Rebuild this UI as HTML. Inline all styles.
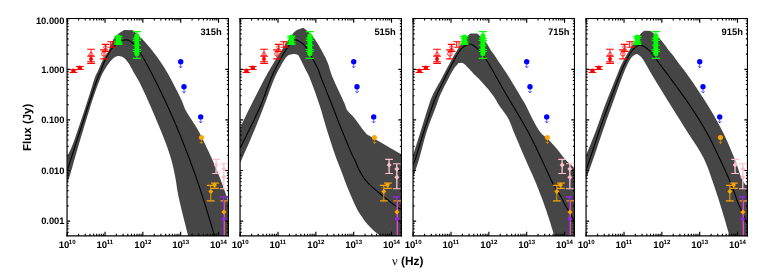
<!DOCTYPE html>
<html><head><meta charset="utf-8"><title>SED</title>
<style>html,body{margin:0;padding:0;background:#fff;}body{width:771px;height:275px;overflow:hidden;font-family:"Liberation Sans",sans-serif;}svg{display:block;}text{font-family:"Liberation Sans",sans-serif;font-weight:bold;fill:#000;text-rendering:geometricPrecision;}</style>
</head><body>
<svg width="771" height="275" viewBox="0 0 771 275">
<g style="will-change:transform">
<g>
<clipPath id="c0"><rect x="67.05" y="18.5" width="161.4" height="217.45"/></clipPath>
<g clip-path="url(#c0)">
<path d="M67.2 156.2 L68 154.64 L68.79 153.17 L69.59 151.66 L70.42 149.98 L71.3 148 L73.1 143.46 L75.1 137.93 L77.19 131.87 L79.26 125.74 L81.2 120 L82.86 115.05 L84.47 110.17 L86.03 105.36 L87.56 100.63 L89.05 96 L90.42 91.64 L91.8 87.13 L93.13 82.8 L94.36 78.98 L95.45 76 L95.87 75.02 L96.25 74.27 L96.62 73.6 L97 72.89 L97.45 72 L98.37 69.97 L99.42 67.53 L100.55 64.91 L101.73 62.33 L102.9 60 L103.89 58.32 L104.9 56.8 L105.93 55.32 L106.97 53.76 L108 52 L109.3 49.19 L110.53 45.97 L111.81 42.65 L113.23 39.53 L114.9 36.9 L116.52 35.19 L118.32 33.77 L120.21 32.52 L122.13 31.3 L124 30 L133.1 30.2 L135.49 32.53 L137.9 34.84 L140.3 37.16 L142.68 39.53 L145 42 L147.37 44.68 L149.72 47.45 L152.02 50.28 L154.25 53.14 L156.4 56 L158.38 58.75 L160.28 61.5 L162.12 64.28 L163.92 67.11 L165.7 70 L167.54 73.12 L169.35 76.34 L171.12 79.6 L172.84 82.84 L174.5 86 L176.02 88.9 L177.52 91.8 L178.96 94.66 L180.31 97.41 L181.5 100 L182.31 101.93 L183.04 103.84 L183.7 105.65 L184.32 107.29 L184.9 108.7 L185.22 109.39 L185.53 109.98 L185.82 110.52 L186.11 111.05 L186.4 111.6 L187.39 113.18 L188.37 114.75 L189.35 116.33 L190.35 117.93 L191.4 119.6 L192.65 121.54 L193.96 123.51 L195.29 125.54 L196.64 127.69 L198 130 L199.76 133.26 L201.55 136.81 L203.36 140.54 L205.15 144.31 L206.9 148 L208.6 151.61 L210.29 155.23 L211.95 158.86 L213.56 162.45 L215.1 166 L216.47 169.25 L217.79 172.47 L219.07 175.66 L220.3 178.83 L221.5 182 L222.64 185.11 L223.76 188.25 L224.85 191.37 L225.86 194.37 L226.8 197.2 L227.48 199.32 L228.1 201.35 L228.68 203.3 L229.25 205.18 L229.8 207 L230.26 208.48 L230.7 209.89 L231.13 211.26 L231.56 212.62 L232 214 L232 240 L189 240 L188.82 239.19 L188.65 238.45 L188.48 237.68 L188.27 236.76 L188 235.6 L186.58 229.82 L184.49 221.45 L182.12 211.92 L179.89 202.63 L178.2 195 L177.51 191.29 L176.99 187.99 L176.54 184.92 L176.08 181.85 L175.5 178.6 L174.76 174.81 L173.99 170.96 L173.15 167.04 L172.19 163.05 L171.1 159 L169.72 154.46 L168.21 149.93 L166.55 145.28 L164.68 140.35 L162.6 135 L158.8 125.66 L154.18 114.75 L149.33 103.61 L144.84 93.58 L141.3 86 L140.1 83.6 L139.04 81.57 L138.08 79.82 L137.17 78.23 L136.3 76.7 L135.71 75.67 L135.16 74.76 L134.63 73.89 L134.08 73 L133.5 72 L132.69 70.51 L131.83 68.87 L130.95 67.17 L130.04 65.52 L129.1 64 L128.25 62.76 L127.38 61.54 L126.48 60.39 L125.59 59.36 L124.7 58.5 L124.06 57.99 L123.43 57.55 L122.8 57.18 L122.16 56.87 L121.5 56.6 L120.85 56.38 L120.19 56.2 L119.53 56.07 L118.86 56 L118.2 56 L117.55 56.07 L116.9 56.21 L116.26 56.42 L115.62 56.68 L115 57 L114.3 57.46 L113.61 58.02 L112.93 58.64 L112.26 59.31 L111.6 60 L110.87 60.79 L110.15 61.61 L109.44 62.48 L108.72 63.41 L108 64.4 L107.04 65.81 L106.03 67.38 L105.03 69.01 L104.1 70.59 L103.3 72 L102.84 72.82 L102.46 73.53 L102.11 74.22 L101.74 75.01 L101.3 76 L100.07 78.98 L98.59 82.79 L96.97 87.11 L95.34 91.62 L93.8 96 L92.25 100.62 L90.73 105.34 L89.23 110.15 L87.72 115.04 L86.2 120 L84.53 125.44 L82.86 130.99 L81.17 136.62 L79.48 142.3 L77.8 148 L75.97 154.32 L74.03 161.09 L72.15 167.7 L70.46 173.54 L69.1 178 L68.65 179.37 L68.26 180.48 L67.91 181.45 L67.56 182.39 L67.2 183.4Z" fill="#464646"/>
<path d="M67.2 170.4 L74.01 149.53 L81.4 126.66 L88.51 104.79 L94.46 86.9 L98.4 76 L98.91 74.86 L99.32 74.04 L99.69 73.4 L100.04 72.77 L100.4 72 L100.85 70.88 L101.28 69.69 L101.71 68.46 L102.15 67.22 L102.6 66 L103.06 64.81 L103.53 63.63 L104.01 62.45 L104.53 61.24 L105.1 60 L105.88 58.42 L106.75 56.74 L107.66 55.05 L108.58 53.44 L109.45 52 L110.07 51.04 L110.67 50.16 L111.26 49.33 L111.87 48.55 L112.5 47.8 L113.09 47.16 L113.7 46.56 L114.32 46 L114.96 45.45 L115.6 44.9 L116.25 44.35 L116.92 43.8 L117.59 43.27 L118.28 42.76 L119 42.3 L119.76 41.87 L120.55 41.47 L121.35 41.11 L122.14 40.78 L122.9 40.5 L123.5 40.29 L124.09 40.11 L124.66 39.96 L125.23 39.85 L125.8 39.8 L126.35 39.81 L126.89 39.87 L127.43 39.97 L127.97 40.12 L128.5 40.3 L129.09 40.57 L129.68 40.9 L130.26 41.28 L130.81 41.66 L131.3 42 L131.61 42.21 L131.87 42.4 L132.13 42.59 L132.39 42.82 L132.7 43.1 L133.42 43.82 L134.27 44.72 L135.18 45.75 L136.11 46.86 L137 48 L138.06 49.47 L139.14 51.09 L140.21 52.76 L141.24 54.43 L142.2 56 L142.93 57.23 L143.61 58.41 L144.26 59.57 L144.91 60.75 L145.6 62 L146.41 63.48 L147.23 64.98 L148.07 66.54 L148.96 68.2 L149.9 70 L151.36 72.82 L152.95 75.93 L154.62 79.23 L156.32 82.62 L158 86 L159.8 89.66 L161.61 93.38 L163.43 97.18 L165.27 101.05 L167.1 105 L169.13 109.46 L171.18 114.05 L173.23 118.71 L175.24 123.38 L177.2 128 L179.04 132.44 L180.84 136.87 L182.59 141.29 L184.32 145.67 L186 150 L187.56 154.05 L189.09 158.06 L190.58 162.03 L192.05 166.01 L193.5 170 L194.94 174.04 L196.37 178.13 L197.77 182.2 L199.12 186.18 L200.4 190 L201.43 193.13 L202.41 196.15 L203.35 199.1 L204.27 202.03 L205.2 205 L206.13 207.99 L207.06 210.97 L207.97 213.96 L208.89 216.97 L209.8 220 L210.8 223.34 L211.84 226.87 L212.86 230.34 L213.77 233.47 L214.5 236 L214.77 236.97 L215 237.79 L215.2 238.53 L215.39 239.24 L215.6 240" fill="none" stroke="#000" stroke-width="1.1"/>
<path d="M73.4 69.6 V72.5" stroke="#ff0000" stroke-width="0.8" fill="none"/><path d="M69.55 69.6 h7.7M69.55 72.5 h7.7" stroke="#ff0000" stroke-width="1" fill="none"/><circle cx="73.45" cy="70.9" r="2.3" fill="#ff0000"/><path d="M79.8 66.5 V69.5" stroke="#ff0000" stroke-width="0.8" fill="none"/><path d="M75.95 66.5 h7.7M75.95 69.5 h7.7" stroke="#ff0000" stroke-width="1" fill="none"/><circle cx="79.8" cy="67.8" r="2.3" fill="#ff0000"/><path d="M91 49.2 V61.7" stroke="#ff0000" stroke-width="0.92" fill="none"/><path d="M87.15 49.2 h7.7M87.15 61.7 h7.7" stroke="#ff0000" stroke-width="1.15" fill="none"/><path d="M91 51.9 L93.8 55.6 L88.2 55.6 Z" fill="none" stroke="#ff0000" stroke-width="0.8"/><path d="M91.1 56.2 V63.3" stroke="#ff0000" stroke-width="0.92" fill="none"/><path d="M87.25 56.2 h7.7M87.25 63.3 h7.7" stroke="#ff0000" stroke-width="1.15" fill="none"/><circle cx="91" cy="58.9" r="2" fill="#ff0000"/><path d="M104 49.8 V58.8" stroke="#ff0000" stroke-width="0.92" fill="none"/><path d="M100.15 49.8 h7.7M100.15 58.8 h7.7" stroke="#ff0000" stroke-width="1.15" fill="none"/><circle cx="103.9" cy="53.9" r="2.25" fill="none" stroke="#ff0000" stroke-width="0.8"/><path d="M105.6 44.4 V51.3" stroke="#ff0000" stroke-width="0.92" fill="none"/><path d="M101.75 44.4 h7.7M101.75 51.3 h7.7" stroke="#ff0000" stroke-width="1.15" fill="none"/><circle cx="105.3" cy="47.3" r="1.6" fill="none" stroke="#ff0000" stroke-width="0.8"/><path d="M107.3 41.7 h7.4 M108.1 47.2 h7.6 M110.7 41.7 V47.2 M113 41.7 V47.2" stroke="#ff0000" stroke-width="1.0" fill="none"/><path d="M118.35 36.3 V44.3" stroke="#00ff00" stroke-width="0.92" fill="none"/><path d="M114.25 36.3 h8.2M114.25 44.3 h8.2" stroke="#00ff00" stroke-width="1.15" fill="none"/><path d="M114.25 38.2 h8.2" stroke="#00ff00" stroke-width="1.1"/><path d="M114.25 41.2 h8.2" stroke="#00ff00" stroke-width="1.1"/><path d="M114.25 43.1 h8.2" stroke="#00ff00" stroke-width="1.1"/><circle cx="118.35" cy="37.1" r="2.55" fill="#00ff00"/><circle cx="118.35" cy="39.6" r="2.55" fill="#00ff00"/><circle cx="118.35" cy="41.9" r="2.55" fill="#00ff00"/><path d="M136.85 31.6 V58.4" stroke="#00ff00" stroke-width="0.92" fill="none"/><path d="M132.75 31.6 h8.2M132.75 58.4 h8.2" stroke="#00ff00" stroke-width="1.15" fill="none"/><path d="M132.65 38.2 h8.4" stroke="#00ff00" stroke-width="1.1"/><path d="M132.65 40.4 h8.4" stroke="#00ff00" stroke-width="1.1"/><path d="M132.65 45.2 h8.4" stroke="#00ff00" stroke-width="1.1"/><path d="M132.65 49.5 h8.4" stroke="#00ff00" stroke-width="1.1"/><path d="M132.65 51.5 h8.4" stroke="#00ff00" stroke-width="1.1"/><circle cx="136.85" cy="35.8" r="2.5" fill="#00ff00"/><circle cx="136.85" cy="38" r="2.5" fill="#00ff00"/><circle cx="136.85" cy="40.5" r="2.5" fill="#00ff00"/><circle cx="136.85" cy="43" r="2.5" fill="#00ff00"/><circle cx="136.85" cy="45.5" r="2.5" fill="#00ff00"/><circle cx="136.85" cy="48" r="2.5" fill="#00ff00"/><circle cx="136.85" cy="50.5" r="2.5" fill="#00ff00"/><circle cx="136.85" cy="53" r="2.5" fill="#00ff00"/><circle cx="136.85" cy="53.7" r="2.5" fill="#00ff00"/><circle cx="180.7" cy="61.8" r="2.7" fill="#0000ff"/><path d="M180.7 61.8 V67.9 M178.95 66.1 l1.75 1.8 l1.75 -1.8" stroke="#0000ff" stroke-width="0.6" fill="none"/><circle cx="184" cy="86.8" r="2.7" fill="#0000ff"/><path d="M184 86.8 V92.9 M182.25 91.1 l1.75 1.8 l1.75 -1.8" stroke="#0000ff" stroke-width="0.6" fill="none"/><circle cx="200.7" cy="116.9" r="2.7" fill="#0000ff"/><path d="M200.7 116.9 V123 M198.95 121.2 l1.75 1.8 l1.75 -1.8" stroke="#0000ff" stroke-width="0.6" fill="none"/><circle cx="201.45" cy="137.45" r="2.5" fill="#ffa500"/><path d="M201.45 137.45 V143.55 M199.7 141.75 l1.75 1.8 l1.75 -1.8" stroke="#ffa500" stroke-width="0.6" fill="none"/><path d="M216.1 159.3 V173.5" stroke="#ffc0cb" stroke-width="1.35" fill="none"/><path d="M212.25 159.3 h7.7M212.25 173.5 h7.7" stroke="#ffc0cb" stroke-width="1.15" fill="none"/><path d="M216.1 162.6 l2.5 2.5 l-2.5 2.5 l-2.5 -2.5 Z" fill="#ffc0cb"/><path d="M223.8 163.7 V188.7" stroke="#ffc0cb" stroke-width="1.35" fill="none"/><path d="M219.95 163.7 h7.7M219.95 188.7 h7.7" stroke="#ffc0cb" stroke-width="1.15" fill="none"/><path d="M223.8 166.5 l2.5 2.5 l-2.5 2.5 l-2.5 -2.5 Z" fill="#ffc0cb"/><path d="M223.8 174.7 l2.5 2.5 l-2.5 2.5 l-2.5 -2.5 Z" fill="#ffc0cb"/><path d="M214.9 183.1 V188.4" stroke="#ffa500" stroke-width="0.92" fill="none"/><path d="M211.05 183.1 h7.7M211.05 188.4 h7.7" stroke="#ffa500" stroke-width="1.15" fill="none"/><path d="M214.5 182.6 l2.5 2.5 l-2.5 2.5 l-2.5 -2.5 Z" fill="#ffa500"/><path d="M210.8 185.3 V200.9" stroke="#ffa500" stroke-width="0.92" fill="none"/><path d="M206.95 185.3 h7.7M206.95 200.9 h7.7" stroke="#ffa500" stroke-width="1.15" fill="none"/><path d="M210.8 189 l2.5 2.5 l-2.5 2.5 l-2.5 -2.5 Z" fill="#ffa500"/><path d="M224.4 200.9 V240" stroke="#ffa500" stroke-width="0.92" fill="none"/><path d="M220.55 200.9 h7.7" stroke="#ffa500" stroke-width="1.15" fill="none"/><path d="M223.7 196.9 V240" stroke="#a020f0" stroke-width="1.3" fill="none"/><path d="M219.85 196.9 h7.7" stroke="#a020f0" stroke-width="1.3" fill="none"/><path d="M223.9 216.4 l2.5 2.5 l-2.5 2.5 l-2.5 -2.5 Z" fill="#a020f0"/><path d="M223.9 209.5 l2.5 2.5 l-2.5 2.5 l-2.5 -2.5 Z" fill="#ffa500"/>
</g>
<path d="M67.2 235.95 v-4.2 M67.2 18.5 v4.2 M78.59 235.95 v-2.1 M78.59 18.5 v2.1 M85.25 235.95 v-2.1 M85.25 18.5 v2.1 M89.98 235.95 v-2.1 M89.98 18.5 v2.1 M93.64 235.95 v-2.1 M93.64 18.5 v2.1 M96.64 235.95 v-2.1 M96.64 18.5 v2.1 M99.17 235.95 v-2.1 M99.17 18.5 v2.1 M101.36 235.95 v-2.1 M101.36 18.5 v2.1 M103.3 235.95 v-2.1 M103.3 18.5 v2.1 M105.03 235.95 v-4.2 M105.03 18.5 v4.2 M116.42 235.95 v-2.1 M116.42 18.5 v2.1 M123.08 235.95 v-2.1 M123.08 18.5 v2.1 M127.81 235.95 v-2.1 M127.81 18.5 v2.1 M131.47 235.95 v-2.1 M131.47 18.5 v2.1 M134.47 235.95 v-2.1 M134.47 18.5 v2.1 M137 235.95 v-2.1 M137 18.5 v2.1 M139.19 235.95 v-2.1 M139.19 18.5 v2.1 M141.13 235.95 v-2.1 M141.13 18.5 v2.1 M142.86 235.95 v-4.2 M142.86 18.5 v4.2 M154.25 235.95 v-2.1 M154.25 18.5 v2.1 M160.91 235.95 v-2.1 M160.91 18.5 v2.1 M165.64 235.95 v-2.1 M165.64 18.5 v2.1 M169.3 235.95 v-2.1 M169.3 18.5 v2.1 M172.3 235.95 v-2.1 M172.3 18.5 v2.1 M174.83 235.95 v-2.1 M174.83 18.5 v2.1 M177.02 235.95 v-2.1 M177.02 18.5 v2.1 M178.96 235.95 v-2.1 M178.96 18.5 v2.1 M180.69 235.95 v-4.2 M180.69 18.5 v4.2 M192.08 235.95 v-2.1 M192.08 18.5 v2.1 M198.74 235.95 v-2.1 M198.74 18.5 v2.1 M203.47 235.95 v-2.1 M203.47 18.5 v2.1 M207.13 235.95 v-2.1 M207.13 18.5 v2.1 M210.13 235.95 v-2.1 M210.13 18.5 v2.1 M212.66 235.95 v-2.1 M212.66 18.5 v2.1 M214.85 235.95 v-2.1 M214.85 18.5 v2.1 M216.79 235.95 v-2.1 M216.79 18.5 v2.1 M218.52 235.95 v-4.2 M218.52 18.5 v4.2 M67.05 232.33 h1.6 M228.45 232.33 h-1.6 M67.05 228.94 h1.6 M228.45 228.94 h-1.6 M67.05 226 h1.6 M228.45 226 h-1.6 M67.05 223.42 h1.6 M228.45 223.42 h-1.6 M67.05 221.1 h3.1 M228.45 221.1 h-3.1 M67.05 205.87 h1.6 M228.45 205.87 h-1.6 M67.05 196.96 h1.6 M228.45 196.96 h-1.6 M67.05 190.64 h1.6 M228.45 190.64 h-1.6 M67.05 185.73 h1.6 M228.45 185.73 h-1.6 M67.05 181.73 h1.6 M228.45 181.73 h-1.6 M67.05 178.34 h1.6 M228.45 178.34 h-1.6 M67.05 175.4 h1.6 M228.45 175.4 h-1.6 M67.05 172.82 h1.6 M228.45 172.82 h-1.6 M67.05 170.5 h3.1 M228.45 170.5 h-3.1 M67.05 155.27 h1.6 M228.45 155.27 h-1.6 M67.05 146.36 h1.6 M228.45 146.36 h-1.6 M67.05 140.04 h1.6 M228.45 140.04 h-1.6 M67.05 135.13 h1.6 M228.45 135.13 h-1.6 M67.05 131.13 h1.6 M228.45 131.13 h-1.6 M67.05 127.74 h1.6 M228.45 127.74 h-1.6 M67.05 124.8 h1.6 M228.45 124.8 h-1.6 M67.05 122.22 h1.6 M228.45 122.22 h-1.6 M67.05 119.9 h3.1 M228.45 119.9 h-3.1 M67.05 104.67 h1.6 M228.45 104.67 h-1.6 M67.05 95.76 h1.6 M228.45 95.76 h-1.6 M67.05 89.44 h1.6 M228.45 89.44 h-1.6 M67.05 84.53 h1.6 M228.45 84.53 h-1.6 M67.05 80.53 h1.6 M228.45 80.53 h-1.6 M67.05 77.14 h1.6 M228.45 77.14 h-1.6 M67.05 74.2 h1.6 M228.45 74.2 h-1.6 M67.05 71.62 h1.6 M228.45 71.62 h-1.6 M67.05 69.3 h3.1 M228.45 69.3 h-3.1 M67.05 54.07 h1.6 M228.45 54.07 h-1.6 M67.05 45.16 h1.6 M228.45 45.16 h-1.6 M67.05 38.84 h1.6 M228.45 38.84 h-1.6 M67.05 33.93 h1.6 M228.45 33.93 h-1.6 M67.05 29.93 h1.6 M228.45 29.93 h-1.6 M67.05 26.54 h1.6 M228.45 26.54 h-1.6 M67.05 23.6 h1.6 M228.45 23.6 h-1.6 M67.05 21.02 h1.6 M228.45 21.02 h-1.6 M67.05 18.7 h3.1 M228.45 18.7 h-3.1" stroke="#000" stroke-width="1.15" fill="none"/>
<path d="M67.05 17.95 V236.6" stroke="#000" stroke-width="1.2" fill="none"/>
<path d="M228.45 17.95 V236.6" stroke="#000" stroke-width="1.1" fill="none"/>
<path d="M66.45 18.5 H229" stroke="#000" stroke-width="1.1" fill="none"/>
<path d="M66.45 235.95 H229" stroke="#000" stroke-width="1.3" fill="none"/>
<text x="58.7" y="247.9" font-size="9.6"><tspan>10</tspan><tspan font-size="6.1" dx="-0.5" dy="-4.2">10</tspan></text>
<text x="96.53" y="247.9" font-size="9.6"><tspan>10</tspan><tspan font-size="6.1" dx="-0.5" dy="-4.2">11</tspan></text>
<text x="134.36" y="247.9" font-size="9.6"><tspan>10</tspan><tspan font-size="6.1" dx="-0.5" dy="-4.2">12</tspan></text>
<text x="172.19" y="247.9" font-size="9.6"><tspan>10</tspan><tspan font-size="6.1" dx="-0.5" dy="-4.2">13</tspan></text>
<text x="210.02" y="247.9" font-size="9.6"><tspan>10</tspan><tspan font-size="6.1" dx="-0.5" dy="-4.2">14</tspan></text>
<text x="221.75" y="35.1" font-size="9.4" text-anchor="end">315h</text>
</g>
<g>
<clipPath id="c1"><rect x="240.05" y="18.5" width="161.4" height="217.45"/></clipPath>
<g clip-path="url(#c1)">
<path d="M240.2 127.4 L242.38 122.95 L244.53 118.54 L246.7 114.1 L248.91 109.61 L251.2 105 L253.9 99.61 L256.75 93.93 L259.64 88.25 L262.43 82.85 L265 78 L266.69 74.91 L268.28 72.08 L269.81 69.41 L271.34 66.81 L272.9 64.2 L274.42 61.72 L275.96 59.28 L277.5 56.88 L279.01 54.52 L280.5 52.2 L281.83 50.1 L283.12 48.03 L284.4 45.99 L285.69 43.99 L287 42 L288.33 40 L289.69 37.95 L291.05 35.95 L292.37 34.16 L293.6 32.7 L294.3 32.01 L294.96 31.46 L295.61 30.97 L296.25 30.5 L296.9 30 L303.2 27.8 L303.66 28.12 L304.11 28.41 L304.56 28.71 L305.05 29.06 L305.6 29.5 L306.88 30.6 L308.4 31.98 L310.04 33.56 L311.7 35.29 L313.25 37.1 L315.03 39.51 L316.8 42.2 L318.52 45.03 L320.17 47.88 L321.7 50.6 L322.97 52.9 L324.17 55.13 L325.3 57.36 L326.38 59.63 L327.4 62 L328.36 64.61 L329.18 67.25 L329.98 69.98 L330.88 72.87 L332 76 L334.36 81.56 L337.37 88.08 L340.52 94.72 L343.3 100.64 L345.2 105 L345.58 106.13 L345.81 107.03 L346 107.82 L346.26 108.61 L346.7 109.5 L347.84 111.09 L349.37 112.78 L351.1 114.54 L352.87 116.36 L354.5 118.2 L356.07 120.23 L357.62 122.38 L359.14 124.55 L360.61 126.62 L362 128.5 L363 129.76 L363.94 130.91 L364.86 132.01 L365.77 133.09 L366.7 134.2 L374.02 138.46 L381.85 143.02 L389.43 147.44 L395.97 151.25 L400.7 154 L401.82 154.65 L402.71 155.17 L403.48 155.61 L404.21 156.04 L405 156.5 L405 240 L385 240 L384.62 239.5 L384.26 238.99 L383.88 238.48 L383.47 237.99 L383 237.5 L382.31 236.94 L381.53 236.41 L380.68 235.89 L379.8 235.33 L378.9 234.7 L377.66 233.77 L376.34 232.74 L374.97 231.64 L373.61 230.49 L372.3 229.3 L370.95 227.98 L369.62 226.59 L368.31 225.16 L367.03 223.69 L365.8 222.2 L364.62 220.7 L363.47 219.15 L362.36 217.58 L361.3 216.02 L360.3 214.5 L359.47 213.21 L358.71 211.96 L357.98 210.72 L357.25 209.41 L356.5 208 L355.53 206.06 L354.56 203.99 L353.57 201.81 L352.59 199.57 L351.6 197.3 L350.49 194.73 L349.36 192.05 L348.24 189.34 L347.14 186.63 L346.1 184 L345.2 181.66 L344.36 179.38 L343.54 177.11 L342.7 174.8 L341.8 172.4 L340.71 169.61 L339.58 166.78 L338.41 163.86 L337.22 160.78 L336 157.5 L334.34 152.78 L332.61 147.65 L330.84 142.28 L329.09 136.84 L327.4 131.5 L325.8 126.23 L324.28 120.95 L322.76 115.65 L321.19 110.34 L319.5 105 L317.55 99.19 L315.43 93.12 L313.28 87.14 L311.2 81.65 L309.3 77 L308.27 74.73 L307.29 72.75 L306.35 70.95 L305.43 69.2 L304.5 67.4 L303.59 65.55 L302.65 63.65 L301.74 61.8 L300.91 60.12 L300.2 58.7 L299.89 58.04 L299.62 57.46 L299.38 56.93 L299.12 56.45 L298.8 56 L298.48 55.61 L298.16 55.24 L297.8 54.91 L297.39 54.63 L296.9 54.4 L295.9 54.18 L294.66 54.09 L293.31 54.12 L292.01 54.23 L290.9 54.4 L290.24 54.56 L289.63 54.75 L289.07 54.99 L288.53 55.27 L288 55.6 L287.45 56 L286.94 56.45 L286.44 56.96 L285.93 57.54 L285.4 58.2 L284.48 59.5 L283.5 61.07 L282.5 62.8 L281.5 64.6 L280.5 66.4 L279.42 68.34 L278.35 70.27 L277.27 72.29 L276.16 74.5 L275 77 L273.03 81.75 L270.92 87.29 L268.74 93.26 L266.55 99.29 L264.4 105 L262.45 110.04 L260.54 114.95 L258.62 119.84 L256.62 124.81 L254.5 130 L251.84 136.32 L249 142.88 L246.07 149.59 L243.11 156.33 L240.2 163Z" fill="#464646"/>
<path d="M240.2 148 L241.96 144.45 L243.71 140.95 L245.46 137.42 L247.25 133.79 L249.1 130 L251.39 125.3 L253.78 120.4 L256.21 115.35 L258.61 110.2 L260.9 105 L263.21 99.27 L265.45 93.24 L267.64 87.22 L269.76 81.53 L271.8 76.5 L273.17 73.45 L274.5 70.68 L275.8 68.09 L277.1 65.6 L278.4 63.1 L279.6 60.79 L280.8 58.52 L282.01 56.3 L283.2 54.18 L284.4 52.2 L285.4 50.66 L286.42 49.18 L287.43 47.78 L288.4 46.48 L289.3 45.3 L289.88 44.54 L290.41 43.83 L290.92 43.17 L291.45 42.56 L292 42 L292.52 41.52 L293.06 41.07 L293.6 40.66 L294.15 40.32 L294.7 40.1 L295.16 40.01 L295.63 39.99 L296.09 40.02 L296.55 40.1 L297 40.2 L297.42 40.33 L297.83 40.5 L298.23 40.7 L298.64 40.93 L299.1 41.2 L299.89 41.68 L300.78 42.24 L301.7 42.87 L302.6 43.53 L303.4 44.2 L304.01 44.77 L304.56 45.33 L305.08 45.93 L305.61 46.6 L306.2 47.4 L307.38 49.19 L308.68 51.37 L310.04 53.79 L311.4 56.29 L312.7 58.7 L314 61.14 L315.33 63.68 L316.61 66.21 L317.76 68.59 L318.7 70.7 L319.14 71.82 L319.45 72.76 L319.73 73.67 L320.05 74.7 L320.5 76 L322.16 80.34 L324.4 86.01 L326.96 92.4 L329.58 98.93 L332 105 L334.08 110.3 L336.11 115.53 L338.12 120.71 L340.14 125.86 L342.2 131 L344.39 136.39 L346.72 142.08 L349 147.59 L351.06 152.39 L352.7 156 L353.22 157.01 L353.66 157.79 L354.07 158.47 L354.47 159.16 L354.9 160 L355.52 161.41 L356.13 162.97 L356.76 164.63 L357.44 166.33 L358.2 168 L359.16 169.91 L360.21 171.88 L361.32 173.86 L362.46 175.76 L363.6 177.5 L364.54 178.83 L365.49 180.06 L366.46 181.23 L367.45 182.37 L368.5 183.5 L369.62 184.63 L370.77 185.72 L371.96 186.79 L373.2 187.87 L374.5 189 L376.11 190.38 L377.8 191.8 L379.56 193.24 L381.36 194.71 L383.2 196.2 L385.35 197.95 L387.63 199.78 L389.92 201.62 L392.15 203.35 L394.2 204.9 L395.62 205.91 L396.97 206.83 L398.27 207.69 L399.51 208.51 L400.7 209.3 L401.62 209.92 L402.48 210.5 L403.32 211.07 L404.15 211.63 L405 212.2" fill="none" stroke="#000" stroke-width="1.1"/>
<path d="M246.4 69.6 V72.5" stroke="#ff0000" stroke-width="0.8" fill="none"/><path d="M242.55 69.6 h7.7M242.55 72.5 h7.7" stroke="#ff0000" stroke-width="1" fill="none"/><circle cx="246.45" cy="70.9" r="2.3" fill="#ff0000"/><path d="M252.8 66.5 V69.5" stroke="#ff0000" stroke-width="0.8" fill="none"/><path d="M248.95 66.5 h7.7M248.95 69.5 h7.7" stroke="#ff0000" stroke-width="1" fill="none"/><circle cx="252.8" cy="67.8" r="2.3" fill="#ff0000"/><path d="M264 49.2 V61.7" stroke="#ff0000" stroke-width="0.92" fill="none"/><path d="M260.15 49.2 h7.7M260.15 61.7 h7.7" stroke="#ff0000" stroke-width="1.15" fill="none"/><path d="M264 51.9 L266.8 55.6 L261.2 55.6 Z" fill="none" stroke="#ff0000" stroke-width="0.8"/><path d="M264.1 56.2 V63.3" stroke="#ff0000" stroke-width="0.92" fill="none"/><path d="M260.25 56.2 h7.7M260.25 63.3 h7.7" stroke="#ff0000" stroke-width="1.15" fill="none"/><circle cx="264" cy="58.9" r="2" fill="#ff0000"/><path d="M277 49.8 V58.8" stroke="#ff0000" stroke-width="0.92" fill="none"/><path d="M273.15 49.8 h7.7M273.15 58.8 h7.7" stroke="#ff0000" stroke-width="1.15" fill="none"/><circle cx="276.9" cy="53.9" r="2.25" fill="none" stroke="#ff0000" stroke-width="0.8"/><path d="M278.6 44.4 V51.3" stroke="#ff0000" stroke-width="0.92" fill="none"/><path d="M274.75 44.4 h7.7M274.75 51.3 h7.7" stroke="#ff0000" stroke-width="1.15" fill="none"/><circle cx="278.3" cy="47.3" r="1.6" fill="none" stroke="#ff0000" stroke-width="0.8"/><path d="M280.3 41.7 h7.4 M281.1 47.2 h7.6 M283.7 41.7 V47.2 M286 41.7 V47.2" stroke="#ff0000" stroke-width="1.0" fill="none"/><path d="M291.35 36.3 V44.3" stroke="#00ff00" stroke-width="0.92" fill="none"/><path d="M287.25 36.3 h8.2M287.25 44.3 h8.2" stroke="#00ff00" stroke-width="1.15" fill="none"/><path d="M287.25 38.2 h8.2" stroke="#00ff00" stroke-width="1.1"/><path d="M287.25 41.2 h8.2" stroke="#00ff00" stroke-width="1.1"/><path d="M287.25 43.1 h8.2" stroke="#00ff00" stroke-width="1.1"/><circle cx="291.35" cy="37.1" r="2.55" fill="#00ff00"/><circle cx="291.35" cy="39.6" r="2.55" fill="#00ff00"/><circle cx="291.35" cy="41.9" r="2.55" fill="#00ff00"/><path d="M309.85 31.6 V58.4" stroke="#00ff00" stroke-width="0.92" fill="none"/><path d="M305.75 31.6 h8.2M305.75 58.4 h8.2" stroke="#00ff00" stroke-width="1.15" fill="none"/><path d="M305.65 38.2 h8.4" stroke="#00ff00" stroke-width="1.1"/><path d="M305.65 40.4 h8.4" stroke="#00ff00" stroke-width="1.1"/><path d="M305.65 45.2 h8.4" stroke="#00ff00" stroke-width="1.1"/><path d="M305.65 49.5 h8.4" stroke="#00ff00" stroke-width="1.1"/><path d="M305.65 51.5 h8.4" stroke="#00ff00" stroke-width="1.1"/><circle cx="309.85" cy="35.8" r="2.5" fill="#00ff00"/><circle cx="309.85" cy="38" r="2.5" fill="#00ff00"/><circle cx="309.85" cy="40.5" r="2.5" fill="#00ff00"/><circle cx="309.85" cy="43" r="2.5" fill="#00ff00"/><circle cx="309.85" cy="45.5" r="2.5" fill="#00ff00"/><circle cx="309.85" cy="48" r="2.5" fill="#00ff00"/><circle cx="309.85" cy="50.5" r="2.5" fill="#00ff00"/><circle cx="309.85" cy="53" r="2.5" fill="#00ff00"/><circle cx="309.85" cy="53.7" r="2.5" fill="#00ff00"/><circle cx="353.7" cy="61.8" r="2.7" fill="#0000ff"/><path d="M353.7 61.8 V67.9 M351.95 66.1 l1.75 1.8 l1.75 -1.8" stroke="#0000ff" stroke-width="0.6" fill="none"/><circle cx="357" cy="86.8" r="2.7" fill="#0000ff"/><path d="M357 86.8 V92.9 M355.25 91.1 l1.75 1.8 l1.75 -1.8" stroke="#0000ff" stroke-width="0.6" fill="none"/><circle cx="373.7" cy="116.9" r="2.7" fill="#0000ff"/><path d="M373.7 116.9 V123 M371.95 121.2 l1.75 1.8 l1.75 -1.8" stroke="#0000ff" stroke-width="0.6" fill="none"/><circle cx="374.45" cy="137.45" r="2.5" fill="#ffa500"/><path d="M374.45 137.45 V143.55 M372.7 141.75 l1.75 1.8 l1.75 -1.8" stroke="#ffa500" stroke-width="0.6" fill="none"/><path d="M389.1 159.3 V173.5" stroke="#ffc0cb" stroke-width="1.35" fill="none"/><path d="M385.25 159.3 h7.7M385.25 173.5 h7.7" stroke="#ffc0cb" stroke-width="1.15" fill="none"/><path d="M389.1 162.6 l2.5 2.5 l-2.5 2.5 l-2.5 -2.5 Z" fill="#ffc0cb"/><path d="M396.8 163.7 V188.7" stroke="#ffc0cb" stroke-width="1.35" fill="none"/><path d="M392.95 163.7 h7.7M392.95 188.7 h7.7" stroke="#ffc0cb" stroke-width="1.15" fill="none"/><path d="M396.8 166.5 l2.5 2.5 l-2.5 2.5 l-2.5 -2.5 Z" fill="#ffc0cb"/><path d="M396.8 174.7 l2.5 2.5 l-2.5 2.5 l-2.5 -2.5 Z" fill="#ffc0cb"/><path d="M387.9 183.1 V188.4" stroke="#ffa500" stroke-width="0.92" fill="none"/><path d="M384.05 183.1 h7.7M384.05 188.4 h7.7" stroke="#ffa500" stroke-width="1.15" fill="none"/><path d="M387.5 182.6 l2.5 2.5 l-2.5 2.5 l-2.5 -2.5 Z" fill="#ffa500"/><path d="M383.8 185.3 V200.9" stroke="#ffa500" stroke-width="0.92" fill="none"/><path d="M379.95 185.3 h7.7M379.95 200.9 h7.7" stroke="#ffa500" stroke-width="1.15" fill="none"/><path d="M383.8 189 l2.5 2.5 l-2.5 2.5 l-2.5 -2.5 Z" fill="#ffa500"/><path d="M397.4 200.9 V240" stroke="#ffa500" stroke-width="0.92" fill="none"/><path d="M393.55 200.9 h7.7" stroke="#ffa500" stroke-width="1.15" fill="none"/><path d="M396.7 196.9 V240" stroke="#a020f0" stroke-width="1.3" fill="none"/><path d="M392.85 196.9 h7.7" stroke="#a020f0" stroke-width="1.3" fill="none"/><path d="M396.9 216.4 l2.5 2.5 l-2.5 2.5 l-2.5 -2.5 Z" fill="#a020f0"/><path d="M396.9 209.5 l2.5 2.5 l-2.5 2.5 l-2.5 -2.5 Z" fill="#ffa500"/>
</g>
<path d="M240.2 235.95 v-4.2 M240.2 18.5 v4.2 M251.59 235.95 v-2.1 M251.59 18.5 v2.1 M258.25 235.95 v-2.1 M258.25 18.5 v2.1 M262.98 235.95 v-2.1 M262.98 18.5 v2.1 M266.64 235.95 v-2.1 M266.64 18.5 v2.1 M269.64 235.95 v-2.1 M269.64 18.5 v2.1 M272.17 235.95 v-2.1 M272.17 18.5 v2.1 M274.36 235.95 v-2.1 M274.36 18.5 v2.1 M276.3 235.95 v-2.1 M276.3 18.5 v2.1 M278.03 235.95 v-4.2 M278.03 18.5 v4.2 M289.42 235.95 v-2.1 M289.42 18.5 v2.1 M296.08 235.95 v-2.1 M296.08 18.5 v2.1 M300.81 235.95 v-2.1 M300.81 18.5 v2.1 M304.47 235.95 v-2.1 M304.47 18.5 v2.1 M307.47 235.95 v-2.1 M307.47 18.5 v2.1 M310 235.95 v-2.1 M310 18.5 v2.1 M312.19 235.95 v-2.1 M312.19 18.5 v2.1 M314.13 235.95 v-2.1 M314.13 18.5 v2.1 M315.86 235.95 v-4.2 M315.86 18.5 v4.2 M327.25 235.95 v-2.1 M327.25 18.5 v2.1 M333.91 235.95 v-2.1 M333.91 18.5 v2.1 M338.64 235.95 v-2.1 M338.64 18.5 v2.1 M342.3 235.95 v-2.1 M342.3 18.5 v2.1 M345.3 235.95 v-2.1 M345.3 18.5 v2.1 M347.83 235.95 v-2.1 M347.83 18.5 v2.1 M350.02 235.95 v-2.1 M350.02 18.5 v2.1 M351.96 235.95 v-2.1 M351.96 18.5 v2.1 M353.69 235.95 v-4.2 M353.69 18.5 v4.2 M365.08 235.95 v-2.1 M365.08 18.5 v2.1 M371.74 235.95 v-2.1 M371.74 18.5 v2.1 M376.47 235.95 v-2.1 M376.47 18.5 v2.1 M380.13 235.95 v-2.1 M380.13 18.5 v2.1 M383.13 235.95 v-2.1 M383.13 18.5 v2.1 M385.66 235.95 v-2.1 M385.66 18.5 v2.1 M387.85 235.95 v-2.1 M387.85 18.5 v2.1 M389.79 235.95 v-2.1 M389.79 18.5 v2.1 M391.52 235.95 v-4.2 M391.52 18.5 v4.2 M240.05 232.33 h1.6 M401.45 232.33 h-1.6 M240.05 228.94 h1.6 M401.45 228.94 h-1.6 M240.05 226 h1.6 M401.45 226 h-1.6 M240.05 223.42 h1.6 M401.45 223.42 h-1.6 M240.05 221.1 h3.1 M401.45 221.1 h-3.1 M240.05 205.87 h1.6 M401.45 205.87 h-1.6 M240.05 196.96 h1.6 M401.45 196.96 h-1.6 M240.05 190.64 h1.6 M401.45 190.64 h-1.6 M240.05 185.73 h1.6 M401.45 185.73 h-1.6 M240.05 181.73 h1.6 M401.45 181.73 h-1.6 M240.05 178.34 h1.6 M401.45 178.34 h-1.6 M240.05 175.4 h1.6 M401.45 175.4 h-1.6 M240.05 172.82 h1.6 M401.45 172.82 h-1.6 M240.05 170.5 h3.1 M401.45 170.5 h-3.1 M240.05 155.27 h1.6 M401.45 155.27 h-1.6 M240.05 146.36 h1.6 M401.45 146.36 h-1.6 M240.05 140.04 h1.6 M401.45 140.04 h-1.6 M240.05 135.13 h1.6 M401.45 135.13 h-1.6 M240.05 131.13 h1.6 M401.45 131.13 h-1.6 M240.05 127.74 h1.6 M401.45 127.74 h-1.6 M240.05 124.8 h1.6 M401.45 124.8 h-1.6 M240.05 122.22 h1.6 M401.45 122.22 h-1.6 M240.05 119.9 h3.1 M401.45 119.9 h-3.1 M240.05 104.67 h1.6 M401.45 104.67 h-1.6 M240.05 95.76 h1.6 M401.45 95.76 h-1.6 M240.05 89.44 h1.6 M401.45 89.44 h-1.6 M240.05 84.53 h1.6 M401.45 84.53 h-1.6 M240.05 80.53 h1.6 M401.45 80.53 h-1.6 M240.05 77.14 h1.6 M401.45 77.14 h-1.6 M240.05 74.2 h1.6 M401.45 74.2 h-1.6 M240.05 71.62 h1.6 M401.45 71.62 h-1.6 M240.05 69.3 h3.1 M401.45 69.3 h-3.1 M240.05 54.07 h1.6 M401.45 54.07 h-1.6 M240.05 45.16 h1.6 M401.45 45.16 h-1.6 M240.05 38.84 h1.6 M401.45 38.84 h-1.6 M240.05 33.93 h1.6 M401.45 33.93 h-1.6 M240.05 29.93 h1.6 M401.45 29.93 h-1.6 M240.05 26.54 h1.6 M401.45 26.54 h-1.6 M240.05 23.6 h1.6 M401.45 23.6 h-1.6 M240.05 21.02 h1.6 M401.45 21.02 h-1.6 M240.05 18.7 h3.1 M401.45 18.7 h-3.1" stroke="#000" stroke-width="1.15" fill="none"/>
<path d="M240.05 17.95 V236.6" stroke="#000" stroke-width="1.2" fill="none"/>
<path d="M401.45 17.95 V236.6" stroke="#000" stroke-width="1.1" fill="none"/>
<path d="M239.45 18.5 H402" stroke="#000" stroke-width="1.1" fill="none"/>
<path d="M239.45 235.95 H402" stroke="#000" stroke-width="1.3" fill="none"/>
<text x="231.7" y="247.9" font-size="9.6"><tspan>10</tspan><tspan font-size="6.1" dx="-0.5" dy="-4.2">10</tspan></text>
<text x="269.53" y="247.9" font-size="9.6"><tspan>10</tspan><tspan font-size="6.1" dx="-0.5" dy="-4.2">11</tspan></text>
<text x="307.36" y="247.9" font-size="9.6"><tspan>10</tspan><tspan font-size="6.1" dx="-0.5" dy="-4.2">12</tspan></text>
<text x="345.19" y="247.9" font-size="9.6"><tspan>10</tspan><tspan font-size="6.1" dx="-0.5" dy="-4.2">13</tspan></text>
<text x="383.02" y="247.9" font-size="9.6"><tspan>10</tspan><tspan font-size="6.1" dx="-0.5" dy="-4.2">14</tspan></text>
<text x="395.75" y="35.1" font-size="9.4" text-anchor="end">515h</text>
</g>
<g>
<clipPath id="c2"><rect x="413.05" y="18.5" width="161.4" height="217.45"/></clipPath>
<g clip-path="url(#c2)">
<path d="M413.2 154.5 L414.67 149.93 L416.14 145.38 L417.62 140.82 L419.1 136.21 L420.6 131.5 L422.3 126.08 L424.08 120.31 L425.84 114.61 L427.48 109.37 L428.9 105 L429.53 103.08 L430.06 101.48 L430.56 100 L431.15 98.47 L431.9 96.7 L433.51 93.37 L435.51 89.6 L437.7 85.62 L439.9 81.67 L441.9 78 L443.44 75.09 L444.92 72.27 L446.35 69.52 L447.77 66.84 L449.2 64.2 L450.53 61.79 L451.85 59.4 L453.17 57.07 L454.45 54.83 L455.7 52.7 L456.69 51.04 L457.65 49.45 L458.6 47.93 L459.54 46.45 L460.5 45 L461.4 43.67 L462.31 42.36 L463.22 41.1 L464.12 39.9 L465 38.8 L465.69 38 L466.37 37.25 L467.04 36.56 L467.68 35.91 L468.3 35.3 L468.74 34.88 L469.17 34.49 L469.58 34.13 L469.99 33.77 L470.4 33.4 L477 33.4 L477.3 33.64 L477.59 33.85 L477.88 34.08 L478.21 34.35 L478.6 34.7 L479.91 35.94 L481.62 37.64 L483.5 39.58 L485.31 41.56 L486.8 43.4 L487.71 44.76 L488.49 46.14 L489.19 47.49 L489.87 48.78 L490.6 50 L491.25 50.94 L491.9 51.79 L492.56 52.62 L493.22 53.48 L493.9 54.4 L494.7 55.57 L495.5 56.77 L496.33 58.04 L497.22 59.41 L498.2 60.9 L499.96 63.51 L501.97 66.47 L504.11 69.64 L506.26 72.86 L508.3 76 L510.2 79.05 L512.07 82.14 L513.9 85.22 L515.71 88.29 L517.5 91.3 L519.19 94.11 L520.88 96.89 L522.54 99.64 L524.12 102.35 L525.6 105 L526.77 107.26 L527.84 109.45 L528.86 111.62 L529.9 113.79 L531 116 L532.26 118.45 L533.57 120.98 L534.91 123.5 L536.23 125.88 L537.5 128 L538.38 129.38 L539.22 130.64 L540.07 131.81 L540.95 132.92 L541.9 134 L542.92 134.98 L543.98 135.84 L545.1 136.69 L546.27 137.61 L547.5 138.7 L549.55 140.76 L551.83 143.2 L554.18 145.8 L556.42 148.37 L558.4 150.7 L559.63 152.25 L560.7 153.71 L561.71 155.12 L562.78 156.53 L564 158 L565.8 159.91 L567.84 161.91 L569.96 163.91 L571.96 165.81 L573.7 167.5 L574.68 168.5 L575.55 169.41 L576.37 170.27 L577.17 171.12 L578 172 L578 240 L555.5 240 L555.24 239.12 L555 238.3 L554.75 237.45 L554.46 236.48 L554.1 235.3 L552.95 231.53 L551.45 226.63 L549.73 221.09 L547.91 215.39 L546.1 210 L544.27 204.8 L542.37 199.59 L540.4 194.39 L538.38 189.18 L536.3 184 L534.11 178.78 L531.83 173.58 L529.51 168.39 L527.19 163.2 L524.9 158 L522.6 152.67 L520.26 147.21 L517.96 141.82 L515.77 136.68 L513.8 132 L512.58 128.95 L511.53 126.12 L510.51 123.44 L509.41 120.82 L508.1 118.2 L506.41 115.43 L504.48 112.66 L502.47 109.96 L500.55 107.38 L498.9 105 L497.94 103.44 L497.1 102 L496.32 100.62 L495.51 99.24 L494.6 97.8 L493.45 96.11 L492.23 94.41 L490.95 92.68 L489.57 90.91 L488.1 89.1 L485.98 86.63 L483.56 83.93 L481.08 81.25 L478.81 78.85 L477 77 L476.37 76.39 L475.85 75.92 L475.38 75.5 L474.88 75.06 L474.3 74.5 L473.14 73.29 L471.82 71.83 L470.42 70.27 L469.02 68.75 L467.7 67.4 L466.7 66.38 L465.73 65.35 L464.77 64.41 L463.8 63.64 L462.8 63.1 L461.94 62.9 L461.06 62.87 L460.18 62.95 L459.29 63.05 L458.4 63.1 L457.52 64.15 L456.63 65.17 L455.75 66.2 L454.87 67.29 L454 68.5 L452.94 70.15 L451.92 71.92 L450.89 73.81 L449.83 75.84 L448.7 78 L446.91 81.44 L444.9 85.36 L442.87 89.43 L441.01 93.32 L439.5 96.7 L438.79 98.48 L438.26 100.02 L437.78 101.49 L437.26 103.09 L436.6 105 L434.97 109.32 L432.97 114.46 L430.79 120.09 L428.64 125.87 L426.7 131.5 L424.96 137.23 L423.34 143.17 L421.8 149.08 L420.3 154.77 L418.8 160 L417.65 163.65 L416.53 167.05 L415.42 170.3 L414.31 173.51 L413.2 176.8Z" fill="#464646"/>
<path d="M413.2 164.5 L413.54 163.66 L413.87 162.89 L414.21 162.09 L414.58 161.16 L415 160 L416.36 155.86 L418.06 150.32 L419.95 144 L421.92 137.52 L423.8 131.5 L425.62 125.89 L427.52 120.1 L429.4 114.46 L431.16 109.32 L432.7 105 L433.41 103.08 L434.01 101.48 L434.59 100.02 L435.23 98.48 L436 96.7 L437.5 93.37 L439.28 89.57 L441.2 85.56 L443.12 81.62 L444.9 78 L446.24 75.29 L447.54 72.73 L448.81 70.25 L450.08 67.79 L451.4 65.3 L452.79 62.67 L454.23 59.95 L455.67 57.28 L457.08 54.82 L458.4 52.7 L459.19 51.52 L459.93 50.45 L460.66 49.49 L461.43 48.62 L462.3 47.8 L463.3 47.04 L464.4 46.34 L465.54 45.72 L466.66 45.2 L467.7 44.8 L468.39 44.57 L469.05 44.39 L469.69 44.27 L470.34 44.23 L471 44.3 L471.85 44.55 L472.72 44.97 L473.61 45.5 L474.47 46.09 L475.3 46.7 L476.11 47.34 L476.87 48.03 L477.62 48.77 L478.38 49.59 L479.2 50.5 L480.52 52.06 L481.94 53.85 L483.41 55.79 L484.86 57.8 L486.25 59.8 L487.66 61.96 L489.06 64.25 L490.42 66.56 L491.68 68.74 L492.8 70.7 L493.44 71.83 L493.98 72.82 L494.49 73.77 L495.04 74.8 L495.7 76 L497.14 78.57 L498.85 81.6 L500.71 84.87 L502.6 88.17 L504.4 91.3 L505.99 94.02 L507.53 96.62 L509.08 99.23 L510.72 101.98 L512.5 105 L515.35 109.82 L518.53 115.14 L521.85 120.76 L525.14 126.45 L528.2 132 L530.91 137.2 L533.51 142.39 L536.03 147.59 L538.51 152.79 L541 158 L543.51 163.36 L546.01 168.88 L548.49 174.33 L550.9 179.45 L553.2 184 L554.77 186.78 L556.3 189.28 L557.79 191.62 L559.23 193.89 L560.6 196.2 L561.78 198.36 L562.9 200.53 L563.98 202.65 L565.01 204.66 L566 206.5 L566.69 207.7 L567.35 208.78 L567.98 209.81 L568.63 210.86 L569.3 212 L570.15 213.5 L571.02 215.1 L571.91 216.75 L572.81 218.39 L573.7 220 L574.56 221.52 L575.42 223.02 L576.28 224.51 L577.14 226 L578 227.5" fill="none" stroke="#000" stroke-width="1.1"/>
<path d="M419.4 69.6 V72.5" stroke="#ff0000" stroke-width="0.8" fill="none"/><path d="M415.55 69.6 h7.7M415.55 72.5 h7.7" stroke="#ff0000" stroke-width="1" fill="none"/><circle cx="419.45" cy="70.9" r="2.3" fill="#ff0000"/><path d="M425.8 66.5 V69.5" stroke="#ff0000" stroke-width="0.8" fill="none"/><path d="M421.95 66.5 h7.7M421.95 69.5 h7.7" stroke="#ff0000" stroke-width="1" fill="none"/><circle cx="425.8" cy="67.8" r="2.3" fill="#ff0000"/><path d="M437 49.2 V61.7" stroke="#ff0000" stroke-width="0.92" fill="none"/><path d="M433.15 49.2 h7.7M433.15 61.7 h7.7" stroke="#ff0000" stroke-width="1.15" fill="none"/><path d="M437 51.9 L439.8 55.6 L434.2 55.6 Z" fill="none" stroke="#ff0000" stroke-width="0.8"/><path d="M437.1 56.2 V63.3" stroke="#ff0000" stroke-width="0.92" fill="none"/><path d="M433.25 56.2 h7.7M433.25 63.3 h7.7" stroke="#ff0000" stroke-width="1.15" fill="none"/><circle cx="437" cy="58.9" r="2" fill="#ff0000"/><path d="M450 49.8 V58.8" stroke="#ff0000" stroke-width="0.92" fill="none"/><path d="M446.15 49.8 h7.7M446.15 58.8 h7.7" stroke="#ff0000" stroke-width="1.15" fill="none"/><circle cx="449.9" cy="53.9" r="2.25" fill="none" stroke="#ff0000" stroke-width="0.8"/><path d="M451.6 44.4 V51.3" stroke="#ff0000" stroke-width="0.92" fill="none"/><path d="M447.75 44.4 h7.7M447.75 51.3 h7.7" stroke="#ff0000" stroke-width="1.15" fill="none"/><circle cx="451.3" cy="47.3" r="1.6" fill="none" stroke="#ff0000" stroke-width="0.8"/><path d="M453.3 41.7 h7.4 M454.1 47.2 h7.6 M456.7 41.7 V47.2 M459 41.7 V47.2" stroke="#ff0000" stroke-width="1.0" fill="none"/><path d="M464.35 36.3 V44.3" stroke="#00ff00" stroke-width="0.92" fill="none"/><path d="M460.25 36.3 h8.2M460.25 44.3 h8.2" stroke="#00ff00" stroke-width="1.15" fill="none"/><path d="M460.25 38.2 h8.2" stroke="#00ff00" stroke-width="1.1"/><path d="M460.25 41.2 h8.2" stroke="#00ff00" stroke-width="1.1"/><path d="M460.25 43.1 h8.2" stroke="#00ff00" stroke-width="1.1"/><circle cx="464.35" cy="37.1" r="2.55" fill="#00ff00"/><circle cx="464.35" cy="39.6" r="2.55" fill="#00ff00"/><circle cx="464.35" cy="41.9" r="2.55" fill="#00ff00"/><path d="M482.85 31.6 V58.4" stroke="#00ff00" stroke-width="0.92" fill="none"/><path d="M478.75 31.6 h8.2M478.75 58.4 h8.2" stroke="#00ff00" stroke-width="1.15" fill="none"/><path d="M478.65 38.2 h8.4" stroke="#00ff00" stroke-width="1.1"/><path d="M478.65 40.4 h8.4" stroke="#00ff00" stroke-width="1.1"/><path d="M478.65 45.2 h8.4" stroke="#00ff00" stroke-width="1.1"/><path d="M478.65 49.5 h8.4" stroke="#00ff00" stroke-width="1.1"/><path d="M478.65 51.5 h8.4" stroke="#00ff00" stroke-width="1.1"/><circle cx="482.85" cy="35.8" r="2.5" fill="#00ff00"/><circle cx="482.85" cy="38" r="2.5" fill="#00ff00"/><circle cx="482.85" cy="40.5" r="2.5" fill="#00ff00"/><circle cx="482.85" cy="43" r="2.5" fill="#00ff00"/><circle cx="482.85" cy="45.5" r="2.5" fill="#00ff00"/><circle cx="482.85" cy="48" r="2.5" fill="#00ff00"/><circle cx="482.85" cy="50.5" r="2.5" fill="#00ff00"/><circle cx="482.85" cy="53" r="2.5" fill="#00ff00"/><circle cx="482.85" cy="53.7" r="2.5" fill="#00ff00"/><circle cx="526.7" cy="61.8" r="2.7" fill="#0000ff"/><path d="M526.7 61.8 V67.9 M524.95 66.1 l1.75 1.8 l1.75 -1.8" stroke="#0000ff" stroke-width="0.6" fill="none"/><circle cx="530" cy="86.8" r="2.7" fill="#0000ff"/><path d="M530 86.8 V92.9 M528.25 91.1 l1.75 1.8 l1.75 -1.8" stroke="#0000ff" stroke-width="0.6" fill="none"/><circle cx="546.7" cy="116.9" r="2.7" fill="#0000ff"/><path d="M546.7 116.9 V123 M544.95 121.2 l1.75 1.8 l1.75 -1.8" stroke="#0000ff" stroke-width="0.6" fill="none"/><circle cx="547.45" cy="137.45" r="2.5" fill="#ffa500"/><path d="M547.45 137.45 V143.55 M545.7 141.75 l1.75 1.8 l1.75 -1.8" stroke="#ffa500" stroke-width="0.6" fill="none"/><path d="M562.1 159.3 V173.5" stroke="#ffc0cb" stroke-width="1.35" fill="none"/><path d="M558.25 159.3 h7.7M558.25 173.5 h7.7" stroke="#ffc0cb" stroke-width="1.15" fill="none"/><path d="M562.1 162.6 l2.5 2.5 l-2.5 2.5 l-2.5 -2.5 Z" fill="#ffc0cb"/><path d="M569.8 163.7 V188.7" stroke="#ffc0cb" stroke-width="1.35" fill="none"/><path d="M565.95 163.7 h7.7M565.95 188.7 h7.7" stroke="#ffc0cb" stroke-width="1.15" fill="none"/><path d="M569.8 166.5 l2.5 2.5 l-2.5 2.5 l-2.5 -2.5 Z" fill="#ffc0cb"/><path d="M569.8 174.7 l2.5 2.5 l-2.5 2.5 l-2.5 -2.5 Z" fill="#ffc0cb"/><path d="M560.9 183.1 V188.4" stroke="#ffa500" stroke-width="0.92" fill="none"/><path d="M557.05 183.1 h7.7M557.05 188.4 h7.7" stroke="#ffa500" stroke-width="1.15" fill="none"/><path d="M560.5 182.6 l2.5 2.5 l-2.5 2.5 l-2.5 -2.5 Z" fill="#ffa500"/><path d="M556.8 185.3 V200.9" stroke="#ffa500" stroke-width="0.92" fill="none"/><path d="M552.95 185.3 h7.7M552.95 200.9 h7.7" stroke="#ffa500" stroke-width="1.15" fill="none"/><path d="M556.8 189 l2.5 2.5 l-2.5 2.5 l-2.5 -2.5 Z" fill="#ffa500"/><path d="M570.4 200.9 V240" stroke="#ffa500" stroke-width="0.92" fill="none"/><path d="M566.55 200.9 h7.7" stroke="#ffa500" stroke-width="1.15" fill="none"/><path d="M569.7 196.9 V240" stroke="#a020f0" stroke-width="1.3" fill="none"/><path d="M565.85 196.9 h7.7" stroke="#a020f0" stroke-width="1.3" fill="none"/><path d="M569.9 216.4 l2.5 2.5 l-2.5 2.5 l-2.5 -2.5 Z" fill="#a020f0"/><path d="M569.9 209.5 l2.5 2.5 l-2.5 2.5 l-2.5 -2.5 Z" fill="#ffa500"/>
</g>
<path d="M413.2 235.95 v-4.2 M413.2 18.5 v4.2 M424.59 235.95 v-2.1 M424.59 18.5 v2.1 M431.25 235.95 v-2.1 M431.25 18.5 v2.1 M435.98 235.95 v-2.1 M435.98 18.5 v2.1 M439.64 235.95 v-2.1 M439.64 18.5 v2.1 M442.64 235.95 v-2.1 M442.64 18.5 v2.1 M445.17 235.95 v-2.1 M445.17 18.5 v2.1 M447.36 235.95 v-2.1 M447.36 18.5 v2.1 M449.3 235.95 v-2.1 M449.3 18.5 v2.1 M451.03 235.95 v-4.2 M451.03 18.5 v4.2 M462.42 235.95 v-2.1 M462.42 18.5 v2.1 M469.08 235.95 v-2.1 M469.08 18.5 v2.1 M473.81 235.95 v-2.1 M473.81 18.5 v2.1 M477.47 235.95 v-2.1 M477.47 18.5 v2.1 M480.47 235.95 v-2.1 M480.47 18.5 v2.1 M483 235.95 v-2.1 M483 18.5 v2.1 M485.19 235.95 v-2.1 M485.19 18.5 v2.1 M487.13 235.95 v-2.1 M487.13 18.5 v2.1 M488.86 235.95 v-4.2 M488.86 18.5 v4.2 M500.25 235.95 v-2.1 M500.25 18.5 v2.1 M506.91 235.95 v-2.1 M506.91 18.5 v2.1 M511.64 235.95 v-2.1 M511.64 18.5 v2.1 M515.3 235.95 v-2.1 M515.3 18.5 v2.1 M518.3 235.95 v-2.1 M518.3 18.5 v2.1 M520.83 235.95 v-2.1 M520.83 18.5 v2.1 M523.02 235.95 v-2.1 M523.02 18.5 v2.1 M524.96 235.95 v-2.1 M524.96 18.5 v2.1 M526.69 235.95 v-4.2 M526.69 18.5 v4.2 M538.08 235.95 v-2.1 M538.08 18.5 v2.1 M544.74 235.95 v-2.1 M544.74 18.5 v2.1 M549.47 235.95 v-2.1 M549.47 18.5 v2.1 M553.13 235.95 v-2.1 M553.13 18.5 v2.1 M556.13 235.95 v-2.1 M556.13 18.5 v2.1 M558.66 235.95 v-2.1 M558.66 18.5 v2.1 M560.85 235.95 v-2.1 M560.85 18.5 v2.1 M562.79 235.95 v-2.1 M562.79 18.5 v2.1 M564.52 235.95 v-4.2 M564.52 18.5 v4.2 M413.05 232.33 h1.6 M574.45 232.33 h-1.6 M413.05 228.94 h1.6 M574.45 228.94 h-1.6 M413.05 226 h1.6 M574.45 226 h-1.6 M413.05 223.42 h1.6 M574.45 223.42 h-1.6 M413.05 221.1 h3.1 M574.45 221.1 h-3.1 M413.05 205.87 h1.6 M574.45 205.87 h-1.6 M413.05 196.96 h1.6 M574.45 196.96 h-1.6 M413.05 190.64 h1.6 M574.45 190.64 h-1.6 M413.05 185.73 h1.6 M574.45 185.73 h-1.6 M413.05 181.73 h1.6 M574.45 181.73 h-1.6 M413.05 178.34 h1.6 M574.45 178.34 h-1.6 M413.05 175.4 h1.6 M574.45 175.4 h-1.6 M413.05 172.82 h1.6 M574.45 172.82 h-1.6 M413.05 170.5 h3.1 M574.45 170.5 h-3.1 M413.05 155.27 h1.6 M574.45 155.27 h-1.6 M413.05 146.36 h1.6 M574.45 146.36 h-1.6 M413.05 140.04 h1.6 M574.45 140.04 h-1.6 M413.05 135.13 h1.6 M574.45 135.13 h-1.6 M413.05 131.13 h1.6 M574.45 131.13 h-1.6 M413.05 127.74 h1.6 M574.45 127.74 h-1.6 M413.05 124.8 h1.6 M574.45 124.8 h-1.6 M413.05 122.22 h1.6 M574.45 122.22 h-1.6 M413.05 119.9 h3.1 M574.45 119.9 h-3.1 M413.05 104.67 h1.6 M574.45 104.67 h-1.6 M413.05 95.76 h1.6 M574.45 95.76 h-1.6 M413.05 89.44 h1.6 M574.45 89.44 h-1.6 M413.05 84.53 h1.6 M574.45 84.53 h-1.6 M413.05 80.53 h1.6 M574.45 80.53 h-1.6 M413.05 77.14 h1.6 M574.45 77.14 h-1.6 M413.05 74.2 h1.6 M574.45 74.2 h-1.6 M413.05 71.62 h1.6 M574.45 71.62 h-1.6 M413.05 69.3 h3.1 M574.45 69.3 h-3.1 M413.05 54.07 h1.6 M574.45 54.07 h-1.6 M413.05 45.16 h1.6 M574.45 45.16 h-1.6 M413.05 38.84 h1.6 M574.45 38.84 h-1.6 M413.05 33.93 h1.6 M574.45 33.93 h-1.6 M413.05 29.93 h1.6 M574.45 29.93 h-1.6 M413.05 26.54 h1.6 M574.45 26.54 h-1.6 M413.05 23.6 h1.6 M574.45 23.6 h-1.6 M413.05 21.02 h1.6 M574.45 21.02 h-1.6 M413.05 18.7 h3.1 M574.45 18.7 h-3.1" stroke="#000" stroke-width="1.15" fill="none"/>
<path d="M413.05 17.95 V236.6" stroke="#000" stroke-width="1.2" fill="none"/>
<path d="M574.45 17.95 V236.6" stroke="#000" stroke-width="1.1" fill="none"/>
<path d="M412.45 18.5 H575" stroke="#000" stroke-width="1.1" fill="none"/>
<path d="M412.45 235.95 H575" stroke="#000" stroke-width="1.3" fill="none"/>
<text x="404.7" y="247.9" font-size="9.6"><tspan>10</tspan><tspan font-size="6.1" dx="-0.5" dy="-4.2">10</tspan></text>
<text x="442.53" y="247.9" font-size="9.6"><tspan>10</tspan><tspan font-size="6.1" dx="-0.5" dy="-4.2">11</tspan></text>
<text x="480.36" y="247.9" font-size="9.6"><tspan>10</tspan><tspan font-size="6.1" dx="-0.5" dy="-4.2">12</tspan></text>
<text x="518.19" y="247.9" font-size="9.6"><tspan>10</tspan><tspan font-size="6.1" dx="-0.5" dy="-4.2">13</tspan></text>
<text x="556.02" y="247.9" font-size="9.6"><tspan>10</tspan><tspan font-size="6.1" dx="-0.5" dy="-4.2">14</tspan></text>
<text x="569.45" y="35.1" font-size="9.4" text-anchor="end">715h</text>
</g>
<g>
<clipPath id="c3"><rect x="586.05" y="18.5" width="161.4" height="217.45"/></clipPath>
<g clip-path="url(#c3)">
<path d="M586.2 155 L588.09 150.33 L589.98 145.68 L591.87 141.01 L593.74 136.3 L595.6 131.5 L597.51 126.31 L599.38 121.03 L601.24 115.69 L603.14 110.33 L605.1 105 L607.24 99.46 L609.5 93.77 L611.76 88.15 L613.93 82.82 L615.9 78 L617.13 74.92 L618.24 72.08 L619.31 69.4 L620.41 66.8 L621.6 64.2 L622.86 61.68 L624.2 59.18 L625.56 56.74 L626.91 54.4 L628.2 52.2 L629.19 50.53 L630.16 48.95 L631.1 47.44 L632.05 45.96 L633 44.5 L633.9 43.14 L634.79 41.81 L635.69 40.51 L636.59 39.24 L637.5 38 L638.37 36.84 L639.26 35.67 L640.15 34.54 L641 33.53 L641.8 32.7 L642.24 32.27 L642.63 31.9 L643.03 31.58 L643.47 31.32 L644 31.1 L645.13 30.87 L646.54 30.76 L648.04 30.77 L649.42 30.89 L650.5 31.1 L650.91 31.25 L651.23 31.43 L651.51 31.64 L651.82 31.9 L652.2 32.2 L653.33 33.07 L654.75 34.2 L656.31 35.5 L657.85 36.87 L659.25 38.2 L660.44 39.46 L661.58 40.77 L662.67 42.1 L663.71 43.42 L664.7 44.7 L665.52 45.79 L666.28 46.87 L667.01 47.94 L667.74 48.98 L668.5 50 L669.24 50.91 L669.98 51.78 L670.73 52.63 L671.5 53.53 L672.3 54.5 L673.32 55.83 L674.35 57.24 L675.43 58.74 L676.57 60.32 L677.8 62 L679.64 64.44 L681.63 67.03 L683.75 69.8 L685.98 72.78 L688.3 76 L691.88 81.12 L695.8 86.85 L699.87 92.93 L703.87 99.07 L707.6 105 L710.84 110.33 L713.96 115.61 L716.96 120.88 L719.84 126.17 L722.6 131.5 L725.26 137.01 L727.88 142.8 L730.35 148.49 L732.53 153.69 L734.3 158 L735.02 159.82 L735.61 161.36 L736.13 162.77 L736.63 164.2 L737.2 165.8 L737.99 168.13 L738.82 170.72 L739.66 173.33 L740.5 175.77 L741.3 177.8 L741.76 178.79 L742.19 179.65 L742.63 180.43 L743.09 181.19 L743.6 182 L744.26 182.95 L744.98 183.89 L745.73 184.85 L746.48 185.84 L747.2 186.9 L747.98 188.22 L748.75 189.63 L749.5 191.08 L750.25 192.55 L751 194 L751 240 L730.5 240 L730.27 239.12 L730.06 238.3 L729.83 237.45 L729.57 236.48 L729.25 235.3 L728.19 231.53 L726.8 226.64 L725.2 221.1 L723.53 215.4 L721.9 210 L720.3 204.81 L718.67 199.61 L717.01 194.39 L715.28 189.19 L713.5 184 L711.7 178.77 L709.91 173.54 L708.03 168.32 L705.96 163.14 L703.6 158 L700.7 152.63 L697.45 147.32 L694 142.05 L690.5 136.78 L687.1 131.5 L683.62 125.93 L679.96 120.1 L676.39 114.4 L673.15 109.23 L670.5 105 L669.45 103.33 L668.6 101.97 L667.82 100.73 L666.99 99.4 L666 97.8 L663.83 94.27 L661.22 90.04 L658.47 85.53 L655.84 81.21 L653.6 77.5 L652.39 75.47 L651.31 73.65 L650.31 71.94 L649.33 70.25 L648.3 68.5 L647.22 66.6 L646.14 64.63 L645.06 62.69 L643.98 60.88 L642.9 59.3 L642.11 58.29 L641.32 57.36 L640.53 56.52 L639.75 55.8 L639 55.2 L638.5 54.86 L638.02 54.56 L637.54 54.32 L637.07 54.16 L636.6 54.1 L636.17 54.15 L635.76 54.28 L635.35 54.49 L634.93 54.73 L634.5 55 L633.9 55.38 L633.29 55.81 L632.66 56.32 L632.03 56.91 L631.4 57.6 L630.41 58.97 L629.41 60.63 L628.41 62.49 L627.44 64.45 L626.5 66.4 L625.53 68.52 L624.63 70.67 L623.74 72.91 L622.82 75.33 L621.8 78 L620.04 82.68 L618.1 87.99 L616.05 93.67 L613.99 99.43 L612 105 L610.1 110.3 L608.22 115.57 L606.34 120.84 L604.47 126.14 L602.6 131.5 L600.63 137.23 L598.64 143.11 L596.66 148.98 L594.74 154.66 L592.9 160 L591.49 164.01 L590.14 167.8 L588.83 171.47 L587.52 175.1 L586.2 178.8Z" fill="#464646"/>
<path d="M586.2 169.5 L586.86 167.68 L587.49 165.95 L588.13 164.17 L588.82 162.23 L589.6 160 L591.19 155.26 L593.02 149.65 L595 143.55 L597.02 137.37 L599 131.5 L600.87 126.13 L602.75 120.83 L604.65 115.56 L606.56 110.29 L608.5 105 L610.53 99.47 L612.62 93.78 L614.71 88.15 L616.72 82.82 L618.6 78 L619.82 74.92 L620.96 72.08 L622.07 69.4 L623.19 66.8 L624.4 64.2 L625.65 61.63 L626.96 59.03 L628.29 56.51 L629.62 54.2 L630.9 52.2 L631.72 51.05 L632.52 50.01 L633.32 49.08 L634.14 48.25 L635 47.5 L635.8 46.91 L636.65 46.37 L637.5 45.9 L638.33 45.54 L639.1 45.3 L639.61 45.22 L640.09 45.2 L640.56 45.23 L641.03 45.31 L641.5 45.4 L641.99 45.52 L642.48 45.68 L642.97 45.88 L643.47 46.11 L644 46.4 L644.84 46.93 L645.76 47.58 L646.7 48.3 L647.62 49.06 L648.5 49.8 L649.28 50.47 L650.02 51.14 L650.74 51.83 L651.46 52.57 L652.2 53.4 L653.15 54.61 L654.09 55.95 L655.05 57.38 L656.04 58.88 L657.1 60.4 L658.54 62.39 L660.12 64.55 L661.74 66.74 L663.3 68.83 L664.7 70.7 L665.55 71.81 L666.28 72.74 L667 73.65 L667.81 74.69 L668.8 76 L672 80.31 L676.13 85.95 L680.75 92.33 L685.39 98.87 L689.6 105 L693.15 110.33 L696.59 115.61 L699.91 120.88 L703.12 126.16 L706.2 131.5 L709.05 136.75 L711.75 142.05 L714.35 147.37 L716.89 152.69 L719.4 158 L721.96 163.47 L724.6 169.21 L727.12 174.81 L729.35 179.88 L731.1 184 L731.73 185.58 L732.23 186.89 L732.66 188.08 L733.09 189.3 L733.6 190.7 L734.41 192.93 L735.29 195.4 L736.21 197.95 L737.13 200.44 L738 202.7 L738.64 204.25 L739.25 205.67 L739.87 207.04 L740.51 208.45 L741.2 210 L742.21 212.27 L743.31 214.76 L744.46 217.32 L745.61 219.84 L746.7 222.2 L747.58 224.06 L748.45 225.83 L749.3 227.55 L750.15 229.26 L751 231" fill="none" stroke="#000" stroke-width="1.1"/>
<path d="M592.4 69.6 V72.5" stroke="#ff0000" stroke-width="0.8" fill="none"/><path d="M588.55 69.6 h7.7M588.55 72.5 h7.7" stroke="#ff0000" stroke-width="1" fill="none"/><circle cx="592.45" cy="70.9" r="2.3" fill="#ff0000"/><path d="M598.8 66.5 V69.5" stroke="#ff0000" stroke-width="0.8" fill="none"/><path d="M594.95 66.5 h7.7M594.95 69.5 h7.7" stroke="#ff0000" stroke-width="1" fill="none"/><circle cx="598.8" cy="67.8" r="2.3" fill="#ff0000"/><path d="M610 49.2 V61.7" stroke="#ff0000" stroke-width="0.92" fill="none"/><path d="M606.15 49.2 h7.7M606.15 61.7 h7.7" stroke="#ff0000" stroke-width="1.15" fill="none"/><path d="M610 51.9 L612.8 55.6 L607.2 55.6 Z" fill="none" stroke="#ff0000" stroke-width="0.8"/><path d="M610.1 56.2 V63.3" stroke="#ff0000" stroke-width="0.92" fill="none"/><path d="M606.25 56.2 h7.7M606.25 63.3 h7.7" stroke="#ff0000" stroke-width="1.15" fill="none"/><circle cx="610" cy="58.9" r="2" fill="#ff0000"/><path d="M623 49.8 V58.8" stroke="#ff0000" stroke-width="0.92" fill="none"/><path d="M619.15 49.8 h7.7M619.15 58.8 h7.7" stroke="#ff0000" stroke-width="1.15" fill="none"/><circle cx="622.9" cy="53.9" r="2.25" fill="none" stroke="#ff0000" stroke-width="0.8"/><path d="M624.6 44.4 V51.3" stroke="#ff0000" stroke-width="0.92" fill="none"/><path d="M620.75 44.4 h7.7M620.75 51.3 h7.7" stroke="#ff0000" stroke-width="1.15" fill="none"/><circle cx="624.3" cy="47.3" r="1.6" fill="none" stroke="#ff0000" stroke-width="0.8"/><path d="M626.3 41.7 h7.4 M627.1 47.2 h7.6 M629.7 41.7 V47.2 M632 41.7 V47.2" stroke="#ff0000" stroke-width="1.0" fill="none"/><path d="M637.35 36.3 V44.3" stroke="#00ff00" stroke-width="0.92" fill="none"/><path d="M633.25 36.3 h8.2M633.25 44.3 h8.2" stroke="#00ff00" stroke-width="1.15" fill="none"/><path d="M633.25 38.2 h8.2" stroke="#00ff00" stroke-width="1.1"/><path d="M633.25 41.2 h8.2" stroke="#00ff00" stroke-width="1.1"/><path d="M633.25 43.1 h8.2" stroke="#00ff00" stroke-width="1.1"/><circle cx="637.35" cy="37.1" r="2.55" fill="#00ff00"/><circle cx="637.35" cy="39.6" r="2.55" fill="#00ff00"/><circle cx="637.35" cy="41.9" r="2.55" fill="#00ff00"/><path d="M655.85 31.6 V58.4" stroke="#00ff00" stroke-width="0.92" fill="none"/><path d="M651.75 31.6 h8.2M651.75 58.4 h8.2" stroke="#00ff00" stroke-width="1.15" fill="none"/><path d="M651.65 38.2 h8.4" stroke="#00ff00" stroke-width="1.1"/><path d="M651.65 40.4 h8.4" stroke="#00ff00" stroke-width="1.1"/><path d="M651.65 45.2 h8.4" stroke="#00ff00" stroke-width="1.1"/><path d="M651.65 49.5 h8.4" stroke="#00ff00" stroke-width="1.1"/><path d="M651.65 51.5 h8.4" stroke="#00ff00" stroke-width="1.1"/><circle cx="655.85" cy="35.8" r="2.5" fill="#00ff00"/><circle cx="655.85" cy="38" r="2.5" fill="#00ff00"/><circle cx="655.85" cy="40.5" r="2.5" fill="#00ff00"/><circle cx="655.85" cy="43" r="2.5" fill="#00ff00"/><circle cx="655.85" cy="45.5" r="2.5" fill="#00ff00"/><circle cx="655.85" cy="48" r="2.5" fill="#00ff00"/><circle cx="655.85" cy="50.5" r="2.5" fill="#00ff00"/><circle cx="655.85" cy="53" r="2.5" fill="#00ff00"/><circle cx="655.85" cy="53.7" r="2.5" fill="#00ff00"/><circle cx="699.7" cy="61.8" r="2.7" fill="#0000ff"/><path d="M699.7 61.8 V67.9 M697.95 66.1 l1.75 1.8 l1.75 -1.8" stroke="#0000ff" stroke-width="0.6" fill="none"/><circle cx="703" cy="86.8" r="2.7" fill="#0000ff"/><path d="M703 86.8 V92.9 M701.25 91.1 l1.75 1.8 l1.75 -1.8" stroke="#0000ff" stroke-width="0.6" fill="none"/><circle cx="719.7" cy="116.9" r="2.7" fill="#0000ff"/><path d="M719.7 116.9 V123 M717.95 121.2 l1.75 1.8 l1.75 -1.8" stroke="#0000ff" stroke-width="0.6" fill="none"/><circle cx="720.45" cy="137.45" r="2.5" fill="#ffa500"/><path d="M720.45 137.45 V143.55 M718.7 141.75 l1.75 1.8 l1.75 -1.8" stroke="#ffa500" stroke-width="0.6" fill="none"/><path d="M735.1 159.3 V173.5" stroke="#ffc0cb" stroke-width="1.35" fill="none"/><path d="M731.25 159.3 h7.7M731.25 173.5 h7.7" stroke="#ffc0cb" stroke-width="1.15" fill="none"/><path d="M735.1 162.6 l2.5 2.5 l-2.5 2.5 l-2.5 -2.5 Z" fill="#ffc0cb"/><path d="M742.8 163.7 V188.7" stroke="#ffc0cb" stroke-width="1.35" fill="none"/><path d="M738.95 163.7 h7.7M738.95 188.7 h7.7" stroke="#ffc0cb" stroke-width="1.15" fill="none"/><path d="M742.8 166.5 l2.5 2.5 l-2.5 2.5 l-2.5 -2.5 Z" fill="#ffc0cb"/><path d="M742.8 174.7 l2.5 2.5 l-2.5 2.5 l-2.5 -2.5 Z" fill="#ffc0cb"/><path d="M733.9 183.1 V188.4" stroke="#ffa500" stroke-width="0.92" fill="none"/><path d="M730.05 183.1 h7.7M730.05 188.4 h7.7" stroke="#ffa500" stroke-width="1.15" fill="none"/><path d="M733.5 182.6 l2.5 2.5 l-2.5 2.5 l-2.5 -2.5 Z" fill="#ffa500"/><path d="M729.8 185.3 V200.9" stroke="#ffa500" stroke-width="0.92" fill="none"/><path d="M725.95 185.3 h7.7M725.95 200.9 h7.7" stroke="#ffa500" stroke-width="1.15" fill="none"/><path d="M729.8 189 l2.5 2.5 l-2.5 2.5 l-2.5 -2.5 Z" fill="#ffa500"/><path d="M743.4 200.9 V240" stroke="#ffa500" stroke-width="0.92" fill="none"/><path d="M739.55 200.9 h7.7" stroke="#ffa500" stroke-width="1.15" fill="none"/><path d="M742.7 196.9 V240" stroke="#a020f0" stroke-width="1.3" fill="none"/><path d="M738.85 196.9 h7.7" stroke="#a020f0" stroke-width="1.3" fill="none"/><path d="M742.9 216.4 l2.5 2.5 l-2.5 2.5 l-2.5 -2.5 Z" fill="#a020f0"/><path d="M742.9 209.5 l2.5 2.5 l-2.5 2.5 l-2.5 -2.5 Z" fill="#ffa500"/>
</g>
<path d="M586.2 235.95 v-4.2 M586.2 18.5 v4.2 M597.59 235.95 v-2.1 M597.59 18.5 v2.1 M604.25 235.95 v-2.1 M604.25 18.5 v2.1 M608.98 235.95 v-2.1 M608.98 18.5 v2.1 M612.64 235.95 v-2.1 M612.64 18.5 v2.1 M615.64 235.95 v-2.1 M615.64 18.5 v2.1 M618.17 235.95 v-2.1 M618.17 18.5 v2.1 M620.36 235.95 v-2.1 M620.36 18.5 v2.1 M622.3 235.95 v-2.1 M622.3 18.5 v2.1 M624.03 235.95 v-4.2 M624.03 18.5 v4.2 M635.42 235.95 v-2.1 M635.42 18.5 v2.1 M642.08 235.95 v-2.1 M642.08 18.5 v2.1 M646.81 235.95 v-2.1 M646.81 18.5 v2.1 M650.47 235.95 v-2.1 M650.47 18.5 v2.1 M653.47 235.95 v-2.1 M653.47 18.5 v2.1 M656 235.95 v-2.1 M656 18.5 v2.1 M658.19 235.95 v-2.1 M658.19 18.5 v2.1 M660.13 235.95 v-2.1 M660.13 18.5 v2.1 M661.86 235.95 v-4.2 M661.86 18.5 v4.2 M673.25 235.95 v-2.1 M673.25 18.5 v2.1 M679.91 235.95 v-2.1 M679.91 18.5 v2.1 M684.64 235.95 v-2.1 M684.64 18.5 v2.1 M688.3 235.95 v-2.1 M688.3 18.5 v2.1 M691.3 235.95 v-2.1 M691.3 18.5 v2.1 M693.83 235.95 v-2.1 M693.83 18.5 v2.1 M696.02 235.95 v-2.1 M696.02 18.5 v2.1 M697.96 235.95 v-2.1 M697.96 18.5 v2.1 M699.69 235.95 v-4.2 M699.69 18.5 v4.2 M711.08 235.95 v-2.1 M711.08 18.5 v2.1 M717.74 235.95 v-2.1 M717.74 18.5 v2.1 M722.47 235.95 v-2.1 M722.47 18.5 v2.1 M726.13 235.95 v-2.1 M726.13 18.5 v2.1 M729.13 235.95 v-2.1 M729.13 18.5 v2.1 M731.66 235.95 v-2.1 M731.66 18.5 v2.1 M733.85 235.95 v-2.1 M733.85 18.5 v2.1 M735.79 235.95 v-2.1 M735.79 18.5 v2.1 M737.52 235.95 v-4.2 M737.52 18.5 v4.2 M586.05 232.33 h1.6 M747.45 232.33 h-1.6 M586.05 228.94 h1.6 M747.45 228.94 h-1.6 M586.05 226 h1.6 M747.45 226 h-1.6 M586.05 223.42 h1.6 M747.45 223.42 h-1.6 M586.05 221.1 h3.1 M747.45 221.1 h-3.1 M586.05 205.87 h1.6 M747.45 205.87 h-1.6 M586.05 196.96 h1.6 M747.45 196.96 h-1.6 M586.05 190.64 h1.6 M747.45 190.64 h-1.6 M586.05 185.73 h1.6 M747.45 185.73 h-1.6 M586.05 181.73 h1.6 M747.45 181.73 h-1.6 M586.05 178.34 h1.6 M747.45 178.34 h-1.6 M586.05 175.4 h1.6 M747.45 175.4 h-1.6 M586.05 172.82 h1.6 M747.45 172.82 h-1.6 M586.05 170.5 h3.1 M747.45 170.5 h-3.1 M586.05 155.27 h1.6 M747.45 155.27 h-1.6 M586.05 146.36 h1.6 M747.45 146.36 h-1.6 M586.05 140.04 h1.6 M747.45 140.04 h-1.6 M586.05 135.13 h1.6 M747.45 135.13 h-1.6 M586.05 131.13 h1.6 M747.45 131.13 h-1.6 M586.05 127.74 h1.6 M747.45 127.74 h-1.6 M586.05 124.8 h1.6 M747.45 124.8 h-1.6 M586.05 122.22 h1.6 M747.45 122.22 h-1.6 M586.05 119.9 h3.1 M747.45 119.9 h-3.1 M586.05 104.67 h1.6 M747.45 104.67 h-1.6 M586.05 95.76 h1.6 M747.45 95.76 h-1.6 M586.05 89.44 h1.6 M747.45 89.44 h-1.6 M586.05 84.53 h1.6 M747.45 84.53 h-1.6 M586.05 80.53 h1.6 M747.45 80.53 h-1.6 M586.05 77.14 h1.6 M747.45 77.14 h-1.6 M586.05 74.2 h1.6 M747.45 74.2 h-1.6 M586.05 71.62 h1.6 M747.45 71.62 h-1.6 M586.05 69.3 h3.1 M747.45 69.3 h-3.1 M586.05 54.07 h1.6 M747.45 54.07 h-1.6 M586.05 45.16 h1.6 M747.45 45.16 h-1.6 M586.05 38.84 h1.6 M747.45 38.84 h-1.6 M586.05 33.93 h1.6 M747.45 33.93 h-1.6 M586.05 29.93 h1.6 M747.45 29.93 h-1.6 M586.05 26.54 h1.6 M747.45 26.54 h-1.6 M586.05 23.6 h1.6 M747.45 23.6 h-1.6 M586.05 21.02 h1.6 M747.45 21.02 h-1.6 M586.05 18.7 h3.1 M747.45 18.7 h-3.1" stroke="#000" stroke-width="1.15" fill="none"/>
<path d="M586.05 17.95 V236.6" stroke="#000" stroke-width="1.2" fill="none"/>
<path d="M747.45 17.95 V236.6" stroke="#000" stroke-width="1.1" fill="none"/>
<path d="M585.45 18.5 H748" stroke="#000" stroke-width="1.1" fill="none"/>
<path d="M585.45 235.95 H748" stroke="#000" stroke-width="1.3" fill="none"/>
<text x="577.7" y="247.9" font-size="9.6"><tspan>10</tspan><tspan font-size="6.1" dx="-0.5" dy="-4.2">10</tspan></text>
<text x="615.53" y="247.9" font-size="9.6"><tspan>10</tspan><tspan font-size="6.1" dx="-0.5" dy="-4.2">11</tspan></text>
<text x="653.36" y="247.9" font-size="9.6"><tspan>10</tspan><tspan font-size="6.1" dx="-0.5" dy="-4.2">12</tspan></text>
<text x="691.19" y="247.9" font-size="9.6"><tspan>10</tspan><tspan font-size="6.1" dx="-0.5" dy="-4.2">13</tspan></text>
<text x="729.02" y="247.9" font-size="9.6"><tspan>10</tspan><tspan font-size="6.1" dx="-0.5" dy="-4.2">14</tspan></text>
<text x="742.9" y="35.1" font-size="9.4" text-anchor="end">915h</text>
</g>
<text x="64.4" y="23.9" font-size="9.3" text-anchor="end">10.000</text>
<text x="64.4" y="72.6" font-size="9.3" text-anchor="end">1.000</text>
<text x="64.4" y="123.2" font-size="9.3" text-anchor="end">0.100</text>
<text x="64.4" y="173.8" font-size="9.3" text-anchor="end">0.010</text>
<text x="64.4" y="224.4" font-size="9.3" text-anchor="end">0.001</text>
<text transform="translate(31.2 127.3) rotate(-90)" font-size="11.5" text-anchor="middle">Flux (Jy)</text>
<text x="392" y="265.3" font-size="11.9"><tspan font-family="Liberation Serif" font-weight="normal" font-size="12.5">ν</tspan> (Hz)</text>
</g></svg></body></html>
